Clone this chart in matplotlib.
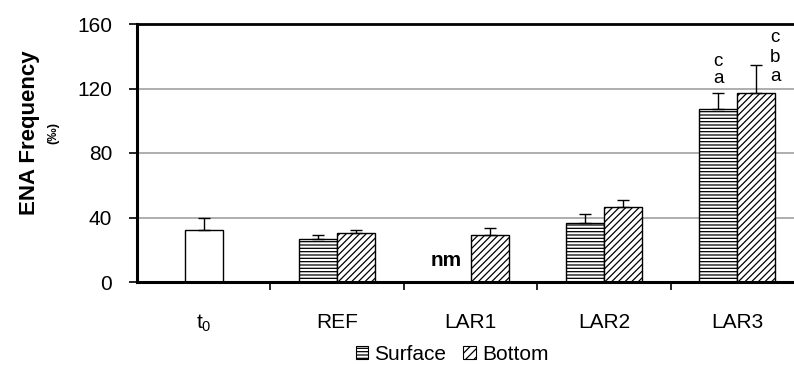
import matplotlib
matplotlib.use("Agg")
import matplotlib.pyplot as plt
from matplotlib.patches import Patch
import numpy as np

plt.rcParams['font.family'] = ['Liberation Sans', 'DejaVu Sans']
plt.rcParams['hatch.linewidth'] = 0.9

# data
categories = ['$\\mathregular{t_0}$', 'REF', 'LAR1', 'LAR2', 'LAR3']
t0_value = 32.2
t0_err = 7.5
surface = [np.nan, 26.7, np.nan, 36.8, 107.3]
surface_err = [0, 2.5, 0, 5.4, 9.7]
bottom = [np.nan, 30.2, 29.1, 46.5, 117.0]
bottom_err = [0, 2.0, 4.2, 4.4, 17.6]

fig = plt.figure(figsize=(7.94, 3.65), dpi=100)
ax = fig.add_axes([137 / 794, 1 - 282 / 365, 667 / 794, 258 / 365])

x = np.arange(len(categories))
w = 0.285
fs = 15

# grid
for g in [40, 80, 120]:
    ax.axhline(g, color='#a8a8a8', lw=1.3, zorder=0)

# t0 (single open bar)
ax.bar(x[0], t0_value, w, color='white', edgecolor='black', lw=1.0, zorder=2)
ax.errorbar(x[0], t0_value, yerr=[[0], [t0_err]], fmt='none', ecolor='black',
            elinewidth=1.0, capsize=4, capthick=1.0, zorder=3)

# Surface / Bottom
ax.bar(x - w / 2, surface, w, color='white', edgecolor='black', hatch='-----',
       lw=1.0, zorder=2)
ax.bar(x + w / 2, bottom, w, color='white', edgecolor='black', hatch='/////',
       lw=1.0, zorder=2)
ax.errorbar(x - w / 2, surface, yerr=[np.zeros(5), surface_err], fmt='none',
            ecolor='black', elinewidth=1.0, capsize=4, capthick=1.0, zorder=3)
ax.errorbar(x + w / 2, bottom, yerr=[np.zeros(5), bottom_err], fmt='none',
            ecolor='black', elinewidth=1.0, capsize=4, capthick=1.0, zorder=3)

# annotations
ax.text(x[2] - 0.18, 13.5, 'nm', ha='center', va='center', fontsize=fs,
        fontweight='bold')
lfs = 13.5
ax.text(x[4] - w / 2, 126.0, 'a', ha='center', va='center', fontsize=lfs)
ax.text(x[4] - w / 2, 137.0, 'c', ha='center', va='center', fontsize=lfs)
ax.text(x[4] + w, 127.5, 'a', ha='center', va='center', fontsize=lfs)
ax.text(x[4] + w, 139.5, 'b', ha='center', va='center', fontsize=lfs)
ax.text(x[4] + w, 151.5, 'c', ha='center', va='center', fontsize=lfs)

ax.set_xlim(-0.5, 4.5)
ax.set_ylim(0, 160)
ax.set_yticks([0, 40, 80, 120, 160])
ax.tick_params(axis='y', labelsize=fs, length=6, width=1.2, direction='out',
               pad=12)
ax.set_xticks(x)
ax.set_xticklabels(categories)
ax.set_xticks(np.arange(0.5, 4.5, 1), minor=True)
ax.tick_params(axis='x', which='major', length=0, labelsize=fs, pad=22)
ax.tick_params(axis='x', which='minor', length=6, width=1.2, direction='out')

for s in ['left', 'bottom']:
    ax.spines[s].set_linewidth(2.2)
ax.spines['top'].set_linewidth(2.0)
ax.spines['right'].set_visible(False)

fig.text(30 / 794, 1 - 133 / 365, 'ENA Frequency', rotation=90, ha='center',
         va='center', fontsize=16, fontweight='bold')
fig.text(53 / 794, 1 - 133 / 365, '(‰)', rotation=90, ha='center',
         va='center', fontsize=9.5, fontweight='bold')

handles = [Patch(facecolor='white', edgecolor='black', hatch='-----', lw=0.8),
           Patch(facecolor='white', edgecolor='black', hatch='////', lw=0.8)]
fig.legend(handles, ['Surface', 'Bottom'], loc='center', ncol=2,
           bbox_to_anchor=(452 / 794, 1 - 354 / 365), frameon=False,
           fontsize=fs, handlelength=0.6, handleheight=0.6, handletextpad=0.3,
           columnspacing=0.8)

fig.savefig('out.png', dpi=100)
